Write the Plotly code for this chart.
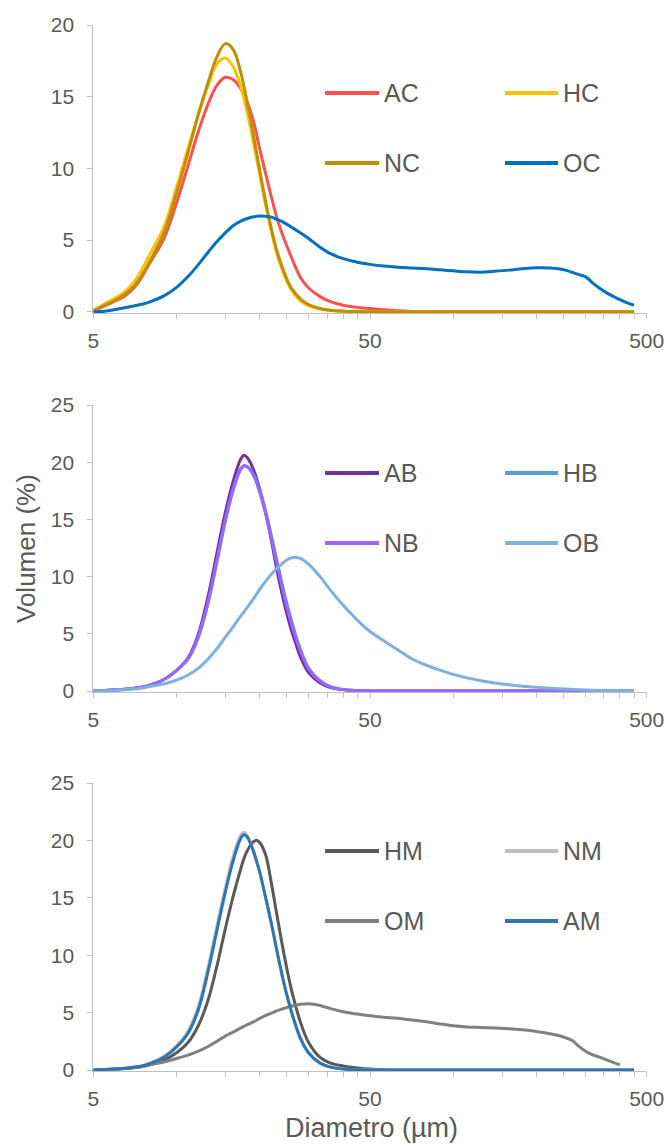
import math
import plotly.graph_objects as go

# ---------------- data ----------------
x_p1 = [5, 5.5, 6, 6.5, 7, 7.5, 8, 9, 10, 11, 12, 13, 14, 15, 16, 17, 18, 19, 20, 21, 22, 23, 24, 25, 26,
        28, 30, 33, 36, 40, 45, 50, 56, 63, 71, 80, 90, 100, 112, 126, 141, 159, 178, 200, 224, 252, 283,
        300, 317, 340, 356, 380, 400, 425, 450]
AC = [0.05, 0.4, 0.75, 1.1, 1.65, 2.45, 3.4, 5.1, 7.6, 10.2, 12.6, 14.5, 15.8, 16.35, 16.2, 15.6, 14.6, 13.2, 11.3,
      9.6, 8.0, 6.6, 5.5, 4.6, 3.8, 2.4, 1.65, 1.05, 0.7, 0.45, 0.3, 0.22, 0.13, 0.06, 0.02, 0, 0, 0, 0, 0, 0, 0,
      0, 0, 0, 0, 0, 0, 0, 0, 0, 0, 0, 0, 0]
HC = [0.1, 0.55, 0.95, 1.4, 2.05, 2.95, 4.0, 5.9, 8.7, 11.4, 13.8, 15.8, 17.3, 17.7, 17.1, 15.8, 13.9, 11.7, 9.5,
      7.4, 5.6, 4.1, 3.0, 2.15, 1.5, 0.75, 0.4, 0.18, 0.08, 0.03, 0.01, 0, 0, 0, 0, 0, 0, 0, 0, 0, 0, 0,
      0, 0, 0, 0, 0, 0, 0, 0, 0, 0, 0, 0, 0]
NC = [0.05, 0.45, 0.8, 1.2, 1.75, 2.55, 3.5, 5.5, 8.3, 11.1, 13.8, 16.0, 17.8, 18.7, 18.3, 16.8, 14.6, 12.2, 9.8,
      7.65, 5.8, 4.3, 3.2, 2.3, 1.65, 0.9, 0.5, 0.22, 0.1, 0.04, 0.01, 0, 0, 0, 0, 0, 0, 0, 0, 0, 0, 0,
      0, 0, 0, 0, 0, 0, 0, 0, 0, 0, 0, 0, 0]
OC = [0, 0.03, 0.15, 0.28, 0.4, 0.52, 0.68, 1.1, 1.7, 2.45, 3.3, 4.15, 4.9, 5.5, 6.0, 6.3, 6.5, 6.62, 6.67, 6.65,
      6.6, 6.45, 6.3, 6.1, 5.9, 5.5, 5.1, 4.5, 4.05, 3.7, 3.45, 3.3, 3.18, 3.1, 3.05, 3.0, 2.92, 2.85, 2.78,
      2.76, 2.82, 2.9, 3.0, 3.07, 3.05, 2.92, 2.6, 2.45, 2.05, 1.6, 1.35, 1.05, 0.85, 0.62, 0.45]

x_p2 = [5, 5.5, 6, 6.5, 7, 7.5, 8, 9, 10, 11, 12, 13, 14, 15, 16, 17, 17.5, 18, 19, 20, 21, 22, 23, 24, 25,
        26, 27, 28, 30, 33, 36, 40, 45, 50, 56, 63, 71, 80, 90, 100, 112, 126, 141, 159, 178, 200, 224, 252,
        283, 317, 356, 400, 450]
AB = [0, 0.05, 0.1, 0.15, 0.23, 0.32, 0.5, 1.0, 1.8, 2.9, 5.0, 8.3, 12.1, 15.6, 18.3, 20.2, 20.6, 20.4, 19.3,
      17.6, 15.5, 13.2, 10.7, 8.6, 6.8, 5.3, 4.1, 3.0, 1.6, 0.7, 0.3, 0.12, 0.04, 0, 0, 0, 0, 0, 0, 0, 0, 0,
      0, 0, 0, 0, 0, 0, 0, 0, 0, 0, 0]
HB = [0, 0.05, 0.1, 0.15, 0.25, 0.35, 0.5, 1.0, 1.8, 2.8, 4.7, 7.7, 11.3, 14.8, 17.5, 19.3, 19.65, 19.6, 18.9,
      17.5, 15.7, 13.6, 11.5, 9.5, 7.7, 6.2, 4.8, 3.7, 2.0, 0.9, 0.38, 0.13, 0.04, 0.01, 0, 0, 0, 0, 0, 0, 0,
      0, 0, 0, 0, 0, 0, 0, 0, 0, 0, 0, 0]
NB = [0, 0.05, 0.1, 0.15, 0.25, 0.35, 0.5, 1.0, 1.8, 2.8, 4.8, 7.8, 11.5, 15.0, 17.7, 19.4, 19.7, 19.6, 18.8,
      17.3, 15.5, 13.4, 11.2, 9.2, 7.4, 5.9, 4.6, 3.5, 1.9, 0.85, 0.35, 0.12, 0.04, 0.01, 0, 0, 0, 0, 0, 0, 0,
      0, 0, 0, 0, 0, 0, 0, 0, 0, 0, 0, 0]
OB = [0, 0.03, 0.07, 0.12, 0.17, 0.25, 0.4, 0.62, 0.95, 1.4, 2.0, 2.8, 3.7, 4.7, 5.6, 6.5, 6.9, 7.3, 8.1, 8.9,
      9.6, 10.2, 10.7, 11.1, 11.45, 11.65, 11.68, 11.6, 11.1, 10.0, 8.8, 7.5, 6.2, 5.2, 4.4, 3.6, 2.8, 2.25,
      1.8, 1.45, 1.15, 0.9, 0.7, 0.55, 0.42, 0.33, 0.24, 0.17, 0.11, 0.07, 0.04, 0.02, 0]

x_p3 = [5, 5.5, 6, 6.5, 7, 7.5, 8, 9, 10, 11, 12, 13, 14, 15, 16, 17, 17.5, 18, 19, 19.5, 20, 21, 22, 23, 24,
        25, 26, 28, 30, 33, 36, 40, 45, 50, 56, 63, 71, 80, 90, 100, 112, 126, 141, 159, 178, 200, 224, 252,
        270, 283, 300, 317, 340, 356, 380, 400, 425, 450]
HM = [0, 0.03, 0.07, 0.12, 0.2, 0.3, 0.45, 0.85, 1.5, 2.4, 3.9, 6.1, 9.1, 12.3, 15.1, 17.4, 18.4, 19.1, 19.9,
      20.0, 19.8, 18.7, 16.3, 13.6, 11.1, 8.9, 7.0, 4.2, 2.4, 1.1, 0.6, 0.35, 0.18, 0.08, 0.03, 0, 0, 0, 0, 0,
      0, 0, 0, 0, 0, 0, 0, 0, 0, 0, 0, 0, 0, 0, 0, 0, 0, 0]
NM = [0, 0.05, 0.1, 0.16, 0.27, 0.38, 0.6, 1.2, 2.1, 3.4, 5.6, 9.0, 12.6, 15.9, 18.6, 20.4, 20.7, 20.4, 19.0,
      18.1, 17.1, 14.9, 12.7, 10.4, 8.3, 6.5, 5.0, 2.7, 1.45, 0.6, 0.25, 0.08, 0.02, 0, 0, 0, 0, 0, 0, 0, 0,
      0, 0, 0, 0, 0, 0, 0, 0, 0, 0, 0, 0, 0, 0, 0, 0, 0]
OM = [0, 0.02, 0.06, 0.12, 0.2, 0.3, 0.45, 0.7, 1.0, 1.3, 1.65, 2.05, 2.5, 2.95, 3.3, 3.65, 3.8, 3.95, 4.2, 4.35,
      4.5, 4.75, 4.95, 5.15, 5.3, 5.45, 5.55, 5.72, 5.78, 5.62, 5.35, 5.08, 4.87, 4.72, 4.6, 4.5, 4.35, 4.2, 4.0,
      3.85, 3.75, 3.7, 3.65, 3.6, 3.5, 3.35, 3.15, 2.85, 2.55, 2.1, 1.65, 1.35, 1.1, 0.9, 0.65, 0.45, None, None]
AM = [0, 0.05, 0.1, 0.15, 0.25, 0.35, 0.55, 1.1, 2.0, 3.2, 5.3, 8.6, 12.2, 15.5, 18.2, 20.1, 20.5, 20.3, 19.0,
      18.1, 17.2, 15.0, 12.8, 10.5, 8.4, 6.6, 5.1, 2.8, 1.5, 0.6, 0.25, 0.08, 0.02, 0, 0, 0, 0, 0, 0, 0, 0,
      0, 0, 0, 0, 0, 0, 0, 0, 0, 0, 0, 0, 0, 0, 0, 0, 0]

panel_names = [["AC", "HC", "NC", "OC"], ["AB", "HB", "NB", "OB"], ["HM", "NM", "OM", "AM"]]
panel_series = [[AC, HC, NC, OC], [AB, HB, NB, OB], [HM, NM, OM, AM]]
panel_x = [x_p1, x_p2, x_p3]
panel_colors = [["#FF5050", "#FFC000", "#BF8F00", "#0070C0"],
                ["#7030A0", "#5B9BD5", "#9966FF", "#7DB0DE"],
                ["#595959", "#BFBFBF", "#808080", "#2E75B6"]]
panel_ymax = [20, 25, 25]
x_major = [5, 50, 500]
x_minor = [10, 15, 20, 25, 30, 35, 40, 45, 100, 150, 200, 250, 300, 350, 400, 450]
y_title = "Volumen (%)"
x_title = "Diametro (µm)"

# ---------------- layout geometry (window pixels) ----------------
W, H = 668, 1144
panel_px = [(25, 311.7), (405, 691), (783, 1070)]   # (top of ymax, y=0)
PAD = 1.2  # px below zero so zero lines are not clipped
AXIS = "#BFBFBF"
TXT = "#595959"
FONT = "Liberation Sans, Arial, sans-serif"


def fx(px):
    return px / W


def fy(py):
    return 1 - py / H


fig = go.Figure()
shapes, annotations = [], []
tickvals = sorted(x_major + x_minor)
ticktext = [str(v) if v in x_major else "" for v in tickvals]

for i in range(3):
    top, zero = panel_px[i]
    ymax = panel_ymax[i]
    ppu = (zero - top) / ymax
    ymin = -PAD / ppu
    bottom = zero + PAD
    sfx = "" if i == 0 else str(i + 1)
    for name, ys, col in zip(panel_names[i], panel_series[i], panel_colors[i]):
        fig.add_trace(go.Scatter(x=panel_x[i], y=ys, mode="lines", name=name,
                                 line=dict(color=col, width=3, shape="spline", smoothing=1.0),
                                 xaxis="x" + sfx, yaxis="y" + sfx, showlegend=False,
                                 connectgaps=False, hoverinfo="skip"))
    fig.layout["xaxis" + sfx] = dict(
        type="log", range=[math.log10(5), math.log10(500)], domain=[fx(93.3), fx(646.7)],
        anchor="y" + sfx, tickmode="array", tickvals=tickvals, ticktext=ticktext, automargin=False,
        ticks="outside", ticklen=5, tickwidth=1, tickcolor=AXIS, showline=True, linecolor=AXIS,
        linewidth=1, showgrid=False, zeroline=False, ticklabelstandoff=4,
        tickfont=dict(family=FONT, size=21, color=TXT))
    fig.layout["yaxis" + sfx] = dict(
        range=[ymin, ymax], domain=[fy(bottom), fy(top)], anchor="x" + sfx, automargin=False,
        tickmode="array", tickvals=list(range(0, ymax + 1, 5)), ticks="outside", ticklen=5,
        tickwidth=1, tickcolor=AXIS, showline=True, linecolor=AXIS, linewidth=1, showgrid=False,
        zeroline=False, ticklabelstandoff=9, tickfont=dict(family=FONT, size=21, color=TXT))
    # legend (2 x 2) drawn in paper space
    rows = [top + 68, top + 138]
    cols = [(325, 379, 382), (505, 558, 561)]
    for k, (name, col) in enumerate(zip(panel_names[i], panel_colors[i])):
        r, c = divmod(k, 2)
        x0, x1, xt = cols[c]
        yy = fy(rows[r])
        shapes.append(dict(type="line", xref="paper", yref="paper", x0=fx(x0), x1=fx(x1),
                           y0=yy, y1=yy, line=dict(color=col, width=4)))
        annotations.append(dict(xref="paper", yref="paper", x=fx(xt), y=yy, text=name,
                                showarrow=False, xanchor="left", yanchor="middle",
                                font=dict(family=FONT, size=25, color=TXT)))

annotations.append(dict(xref="paper", yref="paper", x=fx(26), y=fy(549), text=y_title,
                        textangle=-90, showarrow=False, xanchor="center", yanchor="middle",
                        font=dict(family=FONT, size=26, color=TXT)))
annotations.append(dict(xref="paper", yref="paper", x=fx(371), y=fy(1128), text=x_title,
                        showarrow=False, xanchor="center", yanchor="middle",
                        font=dict(family=FONT, size=27, color=TXT)))

fig.update_layout(width=W, height=H, margin=dict(l=0, r=0, t=0, b=0),
                  paper_bgcolor="white", plot_bgcolor="white", showlegend=False,
                  hovermode=False, shapes=shapes, annotations=annotations,
                  font=dict(family=FONT, color=TXT))
fig.write_html("out.html", config={"displayModeBar": False, "staticPlot": True},
               post_script="document.body.style.margin='0px';document.body.style.overflow='hidden';")
